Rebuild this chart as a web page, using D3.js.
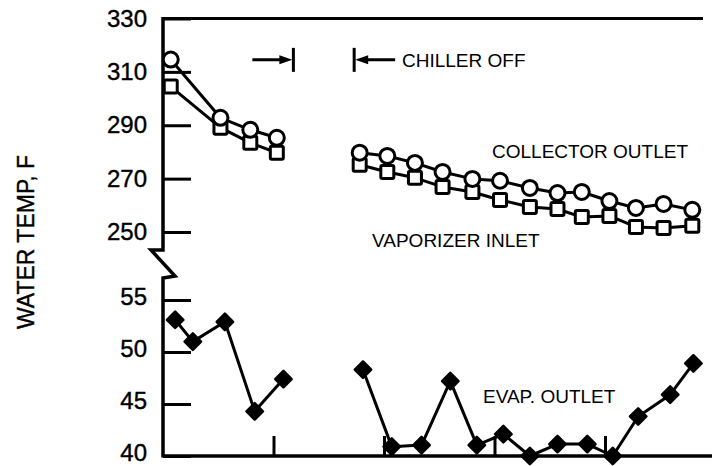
<!DOCTYPE html>
<html>
<head>
<meta charset="utf-8">
<script src="https://cdn.jsdelivr.net/npm/d3@7"></script>
<style>
  html, body { margin: 0; padding: 0; background: #fff; }
  svg { display: block; }
  text { font-family: "Liberation Sans", Arial, Helvetica, sans-serif; fill: #000; }
</style>
</head>
<body>
<svg id="chart" width="712" height="466"></svg>
<script>
// Hours since start of the run; chiller switched off between the two blocks.
const hoursRunning = [0.07, 0.52, 0.79, 1.03];
const hoursOff = [1.78, 2.03, 2.28, 2.53, 2.80, 3.05, 3.32, 3.57, 3.79, 4.04, 4.28, 4.53, 4.79];

// Collector outlet water temperature, F
const collectorRunning = [314.6, 292.8, 288.3, 285.3];
const collectorOff = [279.7, 278.5, 275.9, 272.5, 269.9, 269.2, 266.5, 264.6, 265.0, 261.6, 259.0, 260.5, 258.3];

// Vaporizer inlet water temperature, F
const vaporizerRunning = [304.5, 289.1, 283.4, 279.7];
const vaporizerOff = [275.2, 272.5, 270.3, 266.9, 265.0, 262.0, 259.4, 258.6, 255.6, 256.0, 251.9, 251.5, 252.3];

// Evaporator outlet water temperature, F
const evapHoursRunning = [0.11, 0.27, 0.56, 0.83, 1.09];
const evapHoursOff = [1.81, 2.07, 2.34, 2.60, 2.84, 3.08, 3.32, 3.57, 3.84, 4.07, 4.30, 4.59, 4.80];
const evapRunning = [53.1, 51.0, 52.9, 44.3, 47.4];
const evapOff = [48.3, 40.9, 41.05, 47.2, 41.05, 42.1, 40.0, 41.15, 41.15, 40.0, 43.8, 45.9, 48.9];

// Axis ticks
const upperTicks = [330, 310, 290, 270, 250];
const lowerTicks = [55, 50, 45, 40];
const hourTicks = [1, 2, 3, 4];

const svg = d3.select("#chart");

const x = d3.scaleLinear().domain([0, 5]).range([163, 715.5]);
const yUp = d3.scaleLinear().domain([250, 330]).range([232, 18.5]);
const yLo = d3.scaleLinear().domain([40, 55]).range([456, 300]);

const ink = "#000";

// Left axis (upper and lower scales), ticks pointing inward
const upAxis = d3.axisLeft(yUp).tickValues(upperTicks).tickSize(-28).tickPadding(16).tickFormat(d3.format("d"));
const loAxis = d3.axisLeft(yLo).tickValues(lowerTicks).tickSize(-28).tickPadding(16).tickFormat(d3.format("d"));

function styleAxis(g) {
  g.select(".domain").remove();
  g.selectAll(".tick line").attr("stroke", ink).attr("stroke-width", 3);
  g.selectAll(".tick text").attr("font-size", 24).attr("font-family", "Liberation Sans, Arial, sans-serif")
    .attr("fill", ink).attr("stroke", ink).attr("stroke-width", 0.4);
}
svg.append("g").attr("transform", `translate(${x(0)},0)`).call(upAxis).call(styleAxis);
svg.append("g").attr("transform", `translate(${x(0)},0)`).call(loAxis).call(styleAxis)
  .call(g => g.selectAll(".tick text").attr("dy", "0.2em"));

// Bottom axis with short upward ticks, no labels
const xAxis = d3.axisBottom(x).tickValues(hourTicks).tickSize(-20).tickFormat("");
svg.append("g").attr("transform", `translate(0,${yLo(40)})`).call(xAxis).call(g => {
  g.select(".domain").remove();
  g.selectAll(".tick line").attr("stroke", ink).attr("stroke-width", 3);
});

// Frame: top border, bottom line, left axis with scale break
const x0 = x(0);
svg.append("line").attr("x1", x0).attr("x2", 703).attr("y1", yUp(330)).attr("y2", yUp(330))
  .attr("stroke", ink).attr("stroke-width", 3);
svg.append("line").attr("x1", x0).attr("x2", 712).attr("y1", yLo(40)).attr("y2", yLo(40))
  .attr("stroke", ink).attr("stroke-width", 3.5);
svg.append("path")
  .attr("d", `M${x0},${yUp(330) - 1.5} L${x0},250 L${x0 - 12},250 L${x0 + 12},276 L${x0},278 L${x0},${yLo(40) + 1.5}`)
  .attr("fill", "none").attr("stroke", ink).attr("stroke-width", 3.5).attr("stroke-linejoin", "miter");

// Y axis title
svg.append("text")
  .attr("transform", "translate(34,242) rotate(-90)")
  .attr("text-anchor", "middle")
  .attr("font-size", 23)
  .attr("stroke", ink).attr("stroke-width", 0.4)
  .text("WATER TEMP, F");

// Series lines
const lineUp = d3.line().x(d => x(d[0])).y(d => yUp(d[1]));
const lineLo = d3.line().x(d => x(d[0])).y(d => yLo(d[1]));
const zipPts = (xs, ys) => xs.map((v, i) => [v, ys[i]]);

const upperRuns = [
  { pts: zipPts(hoursRunning, vaporizerRunning), kind: "square" },
  { pts: zipPts(hoursOff, vaporizerOff), kind: "square" },
  { pts: zipPts(hoursRunning, collectorRunning), kind: "circle" },
  { pts: zipPts(hoursOff, collectorOff), kind: "circle" }
];
const lowerRuns = [
  zipPts(evapHoursRunning, evapRunning),
  zipPts(evapHoursOff, evapOff)
];

upperRuns.forEach(r => {
  svg.append("path").attr("d", lineUp(r.pts)).attr("fill", "none")
    .attr("stroke", ink).attr("stroke-width", 3).attr("stroke-linejoin", "round");
});
lowerRuns.forEach(pts => {
  svg.append("path").attr("d", lineLo(pts)).attr("fill", "none")
    .attr("stroke", ink).attr("stroke-width", 3).attr("stroke-linejoin", "round");
});

// Markers: squares under circles, filled diamonds for evaporator
upperRuns.filter(r => r.kind === "square").forEach(r => {
  svg.append("g").selectAll("rect").data(r.pts).join("rect")
    .attr("x", d => x(d[0]) - 6.5).attr("y", d => yUp(d[1]) - 6.5)
    .attr("width", 13).attr("height", 13).attr("rx", 1.5)
    .attr("fill", "#fff").attr("stroke", ink).attr("stroke-width", 3);
});
upperRuns.filter(r => r.kind === "circle").forEach(r => {
  svg.append("g").selectAll("circle").data(r.pts).join("circle")
    .attr("cx", d => x(d[0])).attr("cy", d => yUp(d[1])).attr("r", 7.5)
    .attr("fill", "#fff").attr("stroke", ink).attr("stroke-width", 3);
});
const diamond = d3.symbol().type(d3.symbolSquare).size(135);
lowerRuns.forEach(pts => {
  svg.append("g").selectAll("path").data(pts).join("path")
    .attr("d", diamond)
    .attr("transform", d => `translate(${x(d[0])},${yLo(d[1])}) rotate(45)`)
    .attr("fill", ink).attr("stroke", ink).attr("stroke-width", 2.5).attr("stroke-linejoin", "round");
});

// Chiller-off interval markers
const offStart = x(1.18), offEnd = x(1.73), yMark = yUp(314.5);
function bar(xp) {
  svg.append("line").attr("x1", xp).attr("x2", xp).attr("y1", yMark - 12).attr("y2", yMark + 12)
    .attr("stroke", ink).attr("stroke-width", 3);
}
bar(offStart); bar(offEnd);
svg.append("line").attr("x1", offStart - 41).attr("x2", offStart - 8).attr("y1", yMark).attr("y2", yMark)
  .attr("stroke", ink).attr("stroke-width", 3);
svg.append("path").attr("d", `M${offStart - 1},${yMark} L${offStart - 14},${yMark - 4.5} L${offStart - 14},${yMark + 4.5} Z`).attr("fill", ink);
svg.append("line").attr("x1", offEnd + 8).attr("x2", offEnd + 41).attr("y1", yMark).attr("y2", yMark)
  .attr("stroke", ink).attr("stroke-width", 3);
svg.append("path").attr("d", `M${offEnd + 1},${yMark} L${offEnd + 14},${yMark - 4.5} L${offEnd + 14},${yMark + 4.5} Z`).attr("fill", ink);

// Annotations
const notes = [
  { t: "CHILLER OFF", x: 402, y: 67 },
  { t: "COLLECTOR OUTLET", x: 492, y: 158 },
  { t: "VAPORIZER INLET", x: 372, y: 247 },
  { t: "EVAP. OUTLET", x: 483, y: 403 }
];
svg.append("g").selectAll("text").data(notes).join("text")
  .attr("x", d => d.x).attr("y", d => d.y).attr("font-size", 19).text(d => d.t);
</script>
</body>
</html>
